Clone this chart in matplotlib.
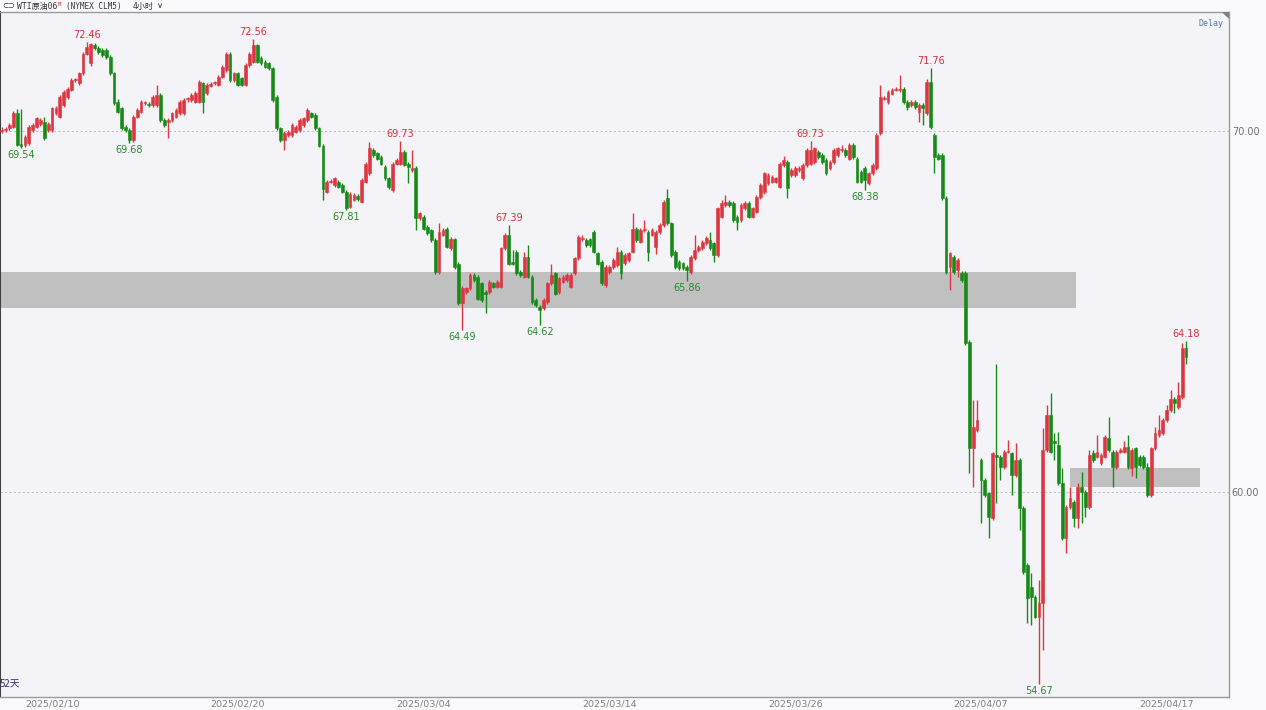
import numpy as np
import matplotlib.pyplot as plt
from matplotlib.patches import Rectangle, Polygon

plt.rcParams['font.family'] = ['DejaVu Sans', 'Noto Sans CJK SC']

# 4h candles, WTI crude 06 contract (CLM5), 2025-02 .. 2025-04
opens = [
    70.00, 70.03, 70.08, 70.12, 70.51, 69.65, 69.62, 69.66, 70.03, 70.12,
    70.21, 70.26, 70.03, 70.03, 70.49, 70.40, 70.72, 70.95, 71.14, 71.41,
    71.32, 71.60, 72.15, 71.90, 72.38, 72.29, 72.25, 72.25, 72.06, 71.60,
    70.81, 70.63, 70.12, 70.03, 69.75, 70.40, 70.54, 70.77, 70.75, 70.72,
    70.72, 71.00, 70.31, 70.26, 70.31, 70.40, 70.49, 70.49, 70.88, 70.86,
    70.81, 70.81, 71.32, 71.05, 71.26, 71.32, 71.28, 71.51, 71.69, 72.15,
    71.41, 71.60, 71.46, 71.28, 71.83, 71.92, 72.38, 72.02, 71.92, 71.88,
    71.74, 70.95, 70.08, 69.75, 69.89, 69.89, 69.98, 70.03, 70.17, 70.31,
    70.49, 70.45, 70.08, 69.60, 68.32, 68.60, 68.50, 68.60, 68.50, 68.32,
    67.90, 68.09, 68.20, 68.04, 68.60, 68.83, 69.47, 69.38, 69.29, 69.00,
    68.69, 68.37, 69.10, 69.10, 69.43, 69.10, 68.92, 68.97, 67.58, 67.63,
    67.35, 67.26, 66.98, 66.10, 67.12, 67.30, 66.75, 67.00, 66.33, 65.23,
    65.55, 65.64, 66.01, 65.96, 65.78, 65.55, 65.55, 65.78, 65.69, 65.69,
    66.75, 67.12, 66.38, 66.66, 66.10, 65.96, 66.52, 65.96, 65.32, 65.13,
    65.09, 65.27, 65.78, 66.06, 65.55, 65.83, 65.87, 65.69, 66.06, 66.47,
    67.00, 66.98, 67.00, 67.21, 66.61, 66.38, 65.73, 66.10, 66.24, 66.29,
    66.66, 66.34, 66.43, 66.66, 67.30, 66.94, 67.26, 67.21, 67.12, 66.80,
    67.21, 67.40, 68.14, 67.44, 66.66, 66.38, 66.34, 66.24, 66.10, 66.47,
    66.71, 66.75, 66.89, 66.98, 66.89, 66.57, 67.63, 67.95, 68.04, 68.00,
    67.63, 67.53, 67.86, 68.00, 67.63, 67.77, 68.18, 68.32, 68.55, 68.60,
    68.60, 68.46, 69.06, 69.15, 68.78, 68.78, 68.92, 68.69, 69.06, 69.10,
    69.15, 69.43, 69.33, 69.20, 68.97, 69.15, 69.33, 69.47, 69.47, 69.24,
    69.61, 69.24, 68.87, 68.97, 68.55, 68.83, 68.97, 69.94, 70.90, 70.81,
    71.04, 71.15, 71.13, 71.18, 70.81, 70.72, 70.81, 70.54, 70.72, 70.49,
    71.37, 69.89, 69.33, 69.33, 68.14, 66.24, 66.52, 66.15, 66.06, 66.06,
    64.15, 61.21, 61.72, 60.89, 60.33, 59.96, 59.27, 61.03, 60.98, 60.70,
    61.12, 61.07, 60.47, 60.89, 59.55, 57.98, 57.38, 57.10, 56.55, 56.92,
    61.16, 62.13, 61.40, 61.30, 60.24, 58.72, 59.59, 59.73, 59.27, 60.15,
    60.01, 59.59, 61.07, 60.98, 60.80, 60.98, 61.49, 61.12, 60.70, 61.12,
    61.12, 61.26, 60.66, 61.21, 60.98, 60.98, 60.70, 59.92, 61.21, 61.58,
    61.63, 62.00, 62.27, 62.59, 62.36, 62.64, 63.98,
]
highs = [
    70.10, 70.12, 70.22, 70.55, 70.60, 70.62, 69.90, 70.18, 70.22, 70.40,
    70.35, 70.40, 70.26, 70.68, 70.70, 71.00, 71.14, 71.23, 71.46, 71.48,
    71.65, 72.20, 72.46, 72.44, 72.44, 72.36, 72.30, 72.30, 72.12, 71.65,
    70.88, 70.68, 70.18, 70.08, 70.45, 70.63, 70.86, 70.84, 70.80, 71.00,
    71.28, 71.05, 70.36, 70.36, 70.54, 70.63, 70.86, 70.91, 70.95, 71.05,
    71.10, 71.42, 71.37, 71.33, 71.35, 71.40, 71.56, 71.83, 72.20, 72.20,
    71.65, 71.65, 71.50, 71.88, 72.20, 72.56, 72.42, 72.08, 71.97, 71.92,
    71.78, 71.00, 70.12, 70.00, 70.03, 70.22, 70.17, 70.36, 70.40, 70.63,
    70.54, 70.50, 70.12, 69.65, 68.65, 68.68, 68.74, 68.65, 68.55, 68.36,
    68.32, 68.28, 68.25, 68.69, 69.15, 69.70, 69.52, 69.43, 69.34, 69.05,
    68.74, 69.15, 69.25, 69.73, 69.48, 69.15, 69.47, 69.02, 67.77, 67.68,
    67.40, 67.30, 67.03, 67.44, 67.31, 67.35, 67.07, 67.05, 66.38, 65.70,
    65.69, 66.06, 66.06, 66.01, 65.83, 65.60, 65.88, 65.83, 65.88, 66.80,
    67.17, 67.39, 66.70, 66.70, 66.15, 66.66, 66.84, 66.01, 65.37, 65.18,
    65.37, 65.83, 66.33, 66.10, 65.97, 66.01, 66.06, 66.06, 66.52, 67.12,
    67.13, 67.03, 67.05, 67.26, 66.66, 66.43, 66.29, 66.29, 66.48, 66.80,
    66.71, 66.62, 66.66, 67.72, 67.35, 67.31, 67.53, 67.26, 67.31, 67.26,
    67.45, 68.09, 68.40, 67.49, 66.71, 66.43, 66.38, 66.29, 66.57, 67.12,
    66.85, 66.99, 67.08, 67.21, 66.94, 67.91, 68.10, 68.23, 68.09, 68.05,
    67.68, 68.00, 68.05, 68.05, 67.91, 68.23, 68.55, 68.88, 68.83, 68.79,
    68.74, 69.15, 69.30, 69.20, 68.97, 69.02, 69.02, 69.11, 69.52, 69.73,
    69.57, 69.48, 69.38, 69.25, 69.20, 69.52, 69.57, 69.61, 69.52, 69.66,
    69.66, 69.29, 68.92, 69.02, 68.88, 69.11, 69.94, 71.27, 70.97, 71.14,
    71.19, 71.23, 71.55, 71.23, 70.86, 70.86, 70.86, 70.77, 70.77, 71.45,
    71.76, 69.94, 69.38, 69.38, 68.19, 66.66, 66.57, 66.48, 66.11, 66.11,
    64.20, 62.55, 62.55, 60.94, 60.38, 60.01, 61.12, 63.56, 61.03, 61.17,
    61.44, 61.12, 61.35, 60.94, 59.60, 58.03, 57.75, 57.15, 57.56, 61.76,
    62.41, 62.73, 61.63, 61.67, 60.66, 59.64, 60.15, 59.78, 60.24, 60.56,
    60.06, 61.17, 61.17, 61.58, 61.08, 61.58, 62.09, 61.17, 61.17, 61.21,
    61.40, 61.58, 61.21, 61.26, 61.03, 61.03, 60.80, 61.26, 61.81, 62.13,
    62.05, 62.41, 62.83, 62.64, 63.06, 64.14, 64.18,
]
lows = [
    69.95, 69.98, 70.02, 70.08, 69.58, 69.54, 69.56, 69.62, 69.98, 70.08,
    70.15, 69.75, 69.98, 69.98, 70.45, 70.35, 70.68, 70.90, 71.10, 71.36,
    71.28, 71.55, 72.10, 71.80, 72.25, 72.15, 72.06, 72.00, 71.55, 70.72,
    70.49, 70.03, 69.98, 69.68, 69.70, 70.35, 70.49, 70.72, 70.66, 70.68,
    70.68, 70.26, 70.12, 69.80, 70.26, 70.35, 70.45, 70.45, 70.82, 70.82,
    70.77, 70.77, 70.49, 71.00, 71.22, 71.28, 71.24, 71.46, 71.65, 71.36,
    71.36, 71.24, 71.24, 71.24, 71.78, 71.88, 71.88, 71.84, 71.74, 71.70,
    70.82, 70.03, 69.70, 69.48, 69.85, 69.85, 69.94, 69.98, 70.12, 70.26,
    70.36, 70.03, 69.55, 68.10, 68.28, 68.55, 68.45, 68.42, 68.28, 67.81,
    67.86, 68.05, 68.06, 68.00, 68.55, 68.78, 69.28, 69.20, 69.05, 68.64,
    68.40, 68.30, 69.05, 69.05, 69.02, 68.55, 68.88, 67.26, 67.53, 67.25,
    67.12, 66.93, 66.05, 66.05, 67.08, 66.75, 66.70, 66.19, 65.18, 64.49,
    65.50, 65.60, 65.82, 65.31, 65.27, 64.95, 65.50, 65.64, 65.64, 65.64,
    66.70, 66.28, 66.28, 66.01, 65.96, 65.92, 65.92, 65.22, 65.13, 64.62,
    65.04, 65.22, 65.74, 65.45, 65.50, 65.78, 65.82, 65.64, 66.01, 66.42,
    66.95, 66.79, 66.79, 66.61, 66.28, 65.73, 65.68, 66.05, 66.19, 66.24,
    65.90, 66.29, 66.38, 66.61, 66.93, 66.89, 67.21, 66.40, 67.08, 66.60,
    67.16, 67.35, 67.40, 66.52, 66.19, 66.15, 66.15, 65.86, 66.05, 66.42,
    66.66, 66.70, 66.84, 66.70, 66.38, 66.52, 67.58, 67.90, 67.90, 67.48,
    67.26, 67.48, 67.81, 67.58, 67.58, 67.72, 68.13, 68.27, 68.50, 68.55,
    68.55, 68.41, 69.01, 68.14, 68.73, 68.73, 68.87, 68.64, 69.01, 69.05,
    69.10, 69.24, 69.10, 68.78, 68.92, 69.10, 69.28, 69.42, 69.28, 69.19,
    69.24, 68.55, 68.55, 68.38, 68.50, 68.78, 68.92, 69.89, 70.85, 70.76,
    70.99, 71.10, 71.08, 70.76, 70.58, 70.67, 70.62, 70.26, 70.17, 70.44,
    70.07, 68.83, 69.19, 68.09, 66.05, 65.60, 66.05, 65.96, 65.82, 64.08,
    60.52, 60.15, 61.67, 59.13, 59.87, 58.72, 59.22, 59.69, 60.33, 60.65,
    61.07, 59.92, 60.42, 58.95, 57.74, 56.36, 56.31, 56.50, 54.67, 55.62,
    61.11, 61.07, 60.89, 60.19, 58.67, 58.30, 59.54, 59.04, 58.99, 59.13,
    59.32, 59.54, 60.84, 60.93, 60.75, 60.93, 61.11, 60.15, 60.65, 61.07,
    61.07, 60.65, 60.43, 60.38, 60.70, 60.65, 59.87, 59.87, 61.16, 61.53,
    61.58, 61.95, 62.22, 62.18, 62.31, 62.59, 63.56,
]
closes = [
    70.03, 70.07, 70.17, 70.49, 69.61, 69.58, 69.85, 70.12, 70.17, 70.35,
    70.30, 69.80, 70.21, 70.63, 70.63, 70.95, 71.09, 71.18, 71.41, 71.43,
    71.60, 72.15, 72.34, 72.40, 72.29, 72.20, 72.11, 72.06, 71.60, 70.77,
    70.54, 70.08, 70.03, 69.75, 70.40, 70.58, 70.81, 70.79, 70.72, 70.95,
    71.00, 70.31, 70.17, 70.31, 70.49, 70.58, 70.81, 70.86, 70.91, 71.00,
    71.05, 71.37, 70.81, 71.28, 71.30, 71.35, 71.51, 71.78, 72.15, 71.41,
    71.60, 71.28, 71.28, 71.83, 72.15, 72.38, 71.92, 71.88, 71.78, 71.74,
    70.86, 70.08, 69.75, 69.94, 69.98, 70.17, 70.12, 70.31, 70.35, 70.58,
    70.40, 70.08, 69.60, 68.40, 68.60, 68.62, 68.69, 68.46, 68.32, 67.86,
    68.27, 68.23, 68.11, 68.64, 69.10, 69.52, 69.33, 69.24, 69.10, 68.69,
    68.46, 69.10, 69.20, 69.43, 69.06, 69.00, 68.97, 67.58, 67.72, 67.30,
    67.17, 66.98, 66.10, 67.21, 67.26, 66.80, 67.02, 66.24, 65.23, 65.64,
    65.64, 66.01, 65.87, 65.36, 65.32, 65.50, 65.83, 65.69, 65.83, 66.75,
    67.12, 66.33, 66.33, 66.06, 66.01, 66.52, 65.96, 65.27, 65.18, 65.04,
    65.32, 65.78, 66.01, 65.50, 65.92, 65.96, 66.01, 66.01, 66.47, 67.07,
    67.02, 66.84, 66.84, 66.66, 66.33, 65.78, 66.24, 66.24, 66.43, 66.66,
    66.06, 66.57, 66.61, 67.30, 66.98, 67.26, 67.28, 66.66, 67.26, 67.21,
    67.40, 68.04, 67.44, 66.57, 66.24, 66.20, 66.20, 66.15, 66.52, 66.71,
    66.80, 66.94, 67.03, 66.75, 66.57, 67.86, 68.00, 68.04, 67.95, 67.53,
    67.49, 67.95, 68.00, 67.63, 67.86, 68.18, 68.50, 68.83, 68.78, 68.74,
    68.69, 69.10, 69.20, 68.41, 68.92, 68.97, 68.97, 69.06, 69.47, 69.47,
    69.52, 69.29, 69.15, 68.83, 69.15, 69.47, 69.52, 69.49, 69.33, 69.61,
    69.29, 68.60, 68.60, 68.64, 68.83, 69.06, 69.89, 70.95, 70.92, 71.09,
    71.14, 71.17, 71.15, 70.81, 70.67, 70.81, 70.67, 70.72, 70.63, 71.37,
    70.12, 69.29, 69.24, 68.14, 66.10, 66.61, 66.10, 66.43, 65.87, 64.13,
    61.21, 61.81, 62.00, 60.33, 59.92, 59.32, 61.07, 60.98, 60.70, 61.12,
    61.14, 60.47, 60.89, 59.55, 57.79, 57.05, 57.10, 56.55, 56.92, 61.16,
    62.13, 61.12, 61.35, 60.24, 58.72, 59.59, 59.83, 59.27, 60.15, 60.01,
    59.59, 61.03, 60.89, 61.12, 61.03, 61.53, 61.16, 60.70, 61.12, 61.16,
    61.26, 60.70, 61.16, 60.70, 60.75, 60.70, 59.92, 61.21, 61.63, 61.72,
    62.00, 62.27, 62.59, 62.46, 62.69, 63.98, 63.75,
]

date_ticks = [13, 61, 109, 157, 205, 253, 301]
date_labels = ["2025/02/10", "2025/02/20", "2025/03/04", "2025/03/14",
               "2025/03/26", "2025/04/07", "2025/04/17"]
price_ticks = [70.0, 60.0]

peak_idx = [22, 65, 103, 131, 209, 240, 306]
peak_vals = [72.46, 72.56, 69.73, 67.39, 69.73, 71.76, 64.18]
trough_idx = [5, 33, 89, 119, 139, 177, 223, 268]
trough_vals = [69.54, 69.68, 67.81, 64.49, 64.62, 65.86, 68.38, 54.67]

# shaded price zones: start bar, end bar, low, high
zone_start = [-0.5, 276.0]
zone_end = [277.6, 309.7]
zone_low = [65.10, 60.15]
zone_high = [66.09, 60.66]

UP = '#dc3641'
DOWN = '#168a16'
BG = '#f4f4f8'

o = np.array(opens)
h = np.array(highs)
l = np.array(lows)
c = np.array(closes)
x = np.arange(len(o))
up = c >= o

fig = plt.figure(figsize=(12.66, 7.10), dpi=100)
fig.patch.set_facecolor('#fafafc')
ax = fig.add_axes([0, 13 / 710, 1229 / 1266, 685 / 710])
ax.set_facecolor(BG)

for xs, xe, lo, hi in zip(zone_start, zone_end, zone_low, zone_high):
    ax.add_patch(Rectangle((xs, lo), xe - xs, hi - lo, facecolor='#c0c0c0',
                           edgecolor='none', zorder=1))

for yv in price_ticks:
    ax.axhline(yv, color='#c4c4c8', lw=0.8, ls=(0, (2, 2)), zorder=0.5)

ax.vlines(x[up], l[up], h[up], color=UP, lw=1, zorder=2)
ax.vlines(x[~up], l[~up], h[~up], color=DOWN, lw=1, zorder=2)
body_lo = np.minimum(o, c)
body_h = np.maximum(np.abs(c - o), 0.03)
ax.bar(x[up], body_h[up], bottom=body_lo[up], width=0.72, color=UP,
       edgecolor=UP, lw=0.4, zorder=3)
ax.bar(x[~up], body_h[~up], bottom=body_lo[~up], width=0.72, color=DOWN,
       edgecolor=DOWN, lw=0.4, zorder=3)

for i, v in zip(peak_idx, peak_vals):
    ax.annotate(f"{v:.2f}", (i, v), xytext=(0, 2), textcoords='offset pixels',
                ha='center', va='bottom', fontsize=7, color='#d8323c')
for i, v in zip(trough_idx, trough_vals):
    ax.annotate(f"{v:.2f}", (i, v), xytext=(0, -2), textcoords='offset pixels',
                ha='center', va='top', fontsize=7, color='#2b8a2b')

ax.set_xlim(-0.45, 317.1)
ax.set_ylim(54.32, 73.30)

ax.yaxis.tick_right()
ax.set_yticks(price_ticks)
ax.set_yticklabels([f"{v:.2f}" for v in price_ticks])
ax.tick_params(axis='y', length=0, pad=2, labelsize=7, labelcolor='#707070')
ax.set_xticks(date_ticks)
ax.set_xticklabels(date_labels)
ax.tick_params(axis='x', length=0, pad=1.5, labelsize=6.8, labelcolor='#808080')

for side in ['top', 'right', 'bottom']:
    ax.spines[side].set_color('#9a9a9a')
    ax.spines[side].set_linewidth(1)
ax.spines['left'].set_color('#404040')
ax.spines['left'].set_linewidth(1.5)

# header strip
hy = 1 - 6 / 710
mono_cjk = ['DejaVu Sans Mono', 'Noto Sans CJK SC']
fig.text(2 / 1266, hy, "⊂⊃", fontsize=5.5, color='#333333', va='center')
fig.text(17 / 1266, hy, "WTI原油06", fontsize=5.8, color='#333333',
         va='center', family=mono_cjk)
fig.text(58 / 1266, 1 - 4 / 710, "M", fontsize=4, color='#e03030',
         va='center', family='DejaVu Sans Mono')
fig.text(66 / 1266, hy, "(NYMEX CLM5)", fontsize=5.6, color='#333333',
         va='center', family=mono_cjk)
fig.text(133 / 1266, hy, "4小时", fontsize=5.8, color='#333333',
         va='center', family=mono_cjk)
fig.text(157 / 1266, hy, "∨", fontsize=6, color='#333333', va='center')

ax.text(0.9955, 0.99, "Delay", transform=ax.transAxes, ha='right', va='top',
        fontsize=6, color='#5a78a0', family='DejaVu Sans Mono')
ax.add_patch(Polygon([[1.0, 1.0], [0.994, 1.0], [1.0, 0.99]], closed=True,
                     transform=ax.transAxes, facecolor='#808080',
                     edgecolor='none', clip_on=False, zorder=5))
ax.text(0.0, 0.012, "52天", transform=ax.transAxes, ha='left', va='bottom',
        fontsize=7, color='#303070', family=['Noto Sans CJK SC', 'DejaVu Sans'])

fig.savefig("out.png", dpi=100, facecolor=fig.get_facecolor())
